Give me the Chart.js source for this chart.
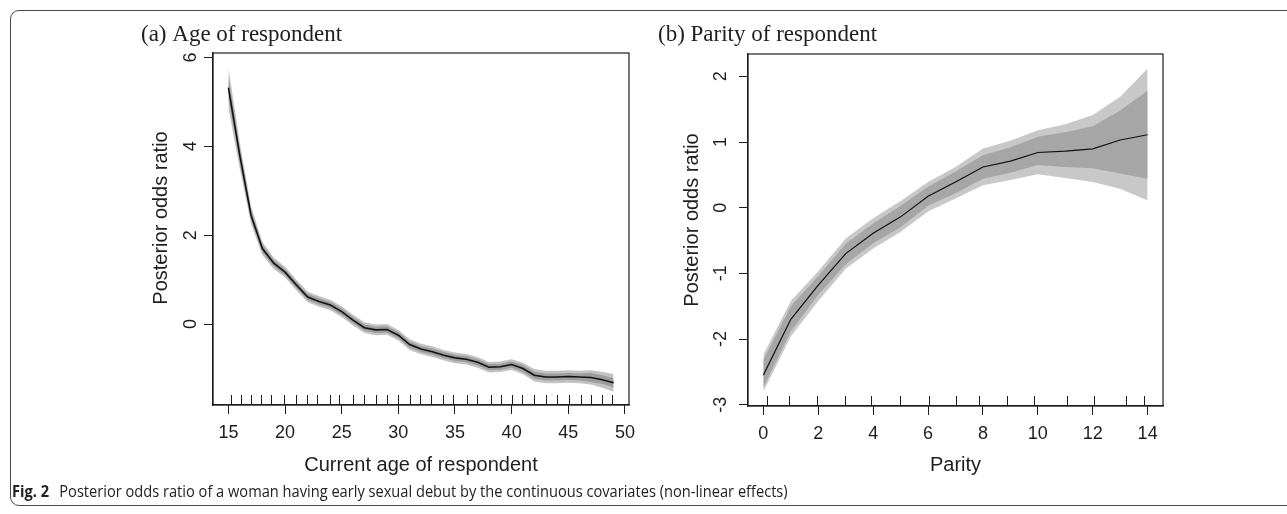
<!DOCTYPE html>
<html>
<head>
<meta charset="utf-8">
<script src="https://cdn.jsdelivr.net/npm/chart.js@4.4.1/dist/chart.umd.min.js"></script>
<style>
  html, body { margin: 0; padding: 0; background: #fff; }
  body { width: 1287px; height: 514px; position: relative; overflow: hidden; }
  canvas { position: absolute; left: 0; top: 0; }
  #frame { position: absolute; left: 10px; top: 10px; width: 1300px; height: 496px;
           border: 1.3px solid #4a4a4a; border-radius: 9px; box-sizing: border-box; }
  #caption { position: absolute; left: 12px; top: 480px; white-space: nowrap;
             font-family: "Open Sans", "Noto Sans", sans-serif; font-size: 16px; line-height: 22px;
             color: #222; transform-origin: 0 50%; }
  #caption b { font-weight: 700; margin-right: 7px; }
</style>
</head>
<body>
<div id="frame"></div>
<canvas id="c1" width="1287" height="514"></canvas>
<canvas id="c2" width="1287" height="514"></canvas>
<div id="caption"><b>Fig. 2</b> Posterior odds ratio of a woman having early sexual debut by the continuous covariates (non-linear effects)</div>
<script>
// ---------- Panel (a): age ----------
const ages = [15,16,17,18,19,20,21,22,23,24,25,26,27,28,29,30,31,32,33,34,35,36,37,38,39,40,41,42,43,44,45,46,47,48,49];
const ageMean = [5.32,3.80,2.45,1.70,1.37,1.17,0.88,0.61,0.51,0.43,0.28,0.09,-0.08,-0.13,-0.12,-0.25,-0.46,-0.56,-0.62,-0.70,-0.76,-0.79,-0.86,-0.97,-0.96,-0.91,-1.00,-1.15,-1.19,-1.19,-1.18,-1.19,-1.20,-1.25,-1.32];
const ageOuterUp = [5.78,4.10,2.65,1.85,1.50,1.29,1.00,0.73,0.63,0.55,0.40,0.21,0.04,-0.01,0.00,-0.13,-0.34,-0.44,-0.50,-0.58,-0.64,-0.67,-0.74,-0.85,-0.84,-0.79,-0.87,-1.01,-1.05,-1.05,-1.04,-1.05,-1.04,-1.07,-1.12];
const ageInnerUp = [5.57,3.97,2.56,1.79,1.44,1.24,0.95,0.68,0.58,0.50,0.35,0.16,-0.01,-0.06,-0.05,-0.18,-0.39,-0.49,-0.55,-0.63,-0.69,-0.72,-0.79,-0.90,-0.89,-0.84,-0.92,-1.07,-1.11,-1.11,-1.10,-1.11,-1.10,-1.15,-1.22];
const ageInnerLo = [5.07,3.63,2.34,1.61,1.30,1.10,0.81,0.54,0.44,0.36,0.21,0.02,-0.15,-0.20,-0.19,-0.32,-0.53,-0.63,-0.69,-0.77,-0.83,-0.86,-0.93,-1.04,-1.03,-0.98,-1.08,-1.23,-1.27,-1.27,-1.26,-1.27,-1.30,-1.35,-1.42];
const ageOuterLo = [4.86,3.50,2.25,1.55,1.24,1.05,0.76,0.49,0.39,0.31,0.16,-0.03,-0.20,-0.25,-0.24,-0.37,-0.58,-0.68,-0.74,-0.82,-0.88,-0.91,-0.98,-1.09,-1.08,-1.03,-1.13,-1.29,-1.33,-1.33,-1.32,-1.33,-1.36,-1.43,-1.52];
const ageRug = [15.2,16.1,17.0,17.9,18.8,19.9,21.0,21.9,22.8,24.0,24.8,26.0,27.0,28.0,29.0,30.0,31.0,31.9,32.9,33.9,34.8,36.1,36.9,38.2,39.1,40.0,40.9,42.0,43.0,44.0,45.1,46.1,47.0,48.0,48.9];

// ---------- Panel (b): parity ----------
const parity = [0,1,2,3,4,5,6,7,8,9,10,11,12,13,14];
const parMean = [-2.55,-1.70,-1.18,-0.70,-0.39,-0.14,0.175,0.39,0.62,0.71,0.84,0.86,0.895,1.03,1.11];
const parOuterUp = [-2.24,-1.42,-0.97,-0.47,-0.16,0.10,0.39,0.62,0.90,1.02,1.18,1.27,1.41,1.69,2.12];
const parInnerUp = [-2.32,-1.50,-1.04,-0.55,-0.24,0.03,0.32,0.55,0.80,0.92,1.08,1.15,1.24,1.48,1.78];
const parInnerLo = [-2.74,-1.88,-1.33,-0.86,-0.54,-0.30,0.03,0.22,0.44,0.53,0.65,0.62,0.60,0.52,0.44];
const parOuterLo = [-2.80,-1.96,-1.42,-0.93,-0.62,-0.37,-0.06,0.14,0.34,0.42,0.51,0.45,0.39,0.29,0.11];
const parRug = [0.15,0.95,1.96,2.98,3.93,4.98,6.04,7.0,7.84,8.87,9.85,11.05,12.03,13.2,13.85];

const TICK_FONT = '18px "Liberation Sans", Arial, sans-serif';
const TITLE_FONT = '20px "Liberation Sans", Arial, sans-serif';
const HEAD_FONT = '23px "Liberation Serif", "Times New Roman", serif';
const INK = '#1e1e1e';

function pts(xs, ys) { return xs.map((x, i) => ({x: x, y: ys[i]})); }

function decor(cfg) {
  return {
    id: 'decor',
    afterDraw(chart) {
      const {ctx, chartArea: a, scales: {x, y}} = chart;
      ctx.save();
      ctx.strokeStyle = INK;
      ctx.lineWidth = 1.2;
      ctx.strokeRect(a.left, a.top, a.right - a.left, a.bottom - a.top);
      // rug marks
      ctx.lineWidth = 1;
      cfg.rug.forEach(v => {
        const px = Math.round(x.getPixelForValue(v)) + 0.5;
        ctx.beginPath(); ctx.moveTo(px, a.bottom); ctx.lineTo(px, a.bottom - 10); ctx.stroke();
      });
      // y tick labels (rotated, as in R)
      ctx.fillStyle = INK;
      ctx.font = TICK_FONT;
      ctx.textAlign = 'center';
      ctx.textBaseline = 'middle';
      y.ticks.forEach(t => {
        const py = y.getPixelForValue(t.value);
        ctx.save(); ctx.translate(cfg.yLabelX, py); ctx.rotate(-Math.PI / 2);
        ctx.fillText(String(t.value), 0, 1); ctx.restore();
      });
      // y title
      ctx.font = TITLE_FONT;
      ctx.save(); ctx.translate(cfg.yTitleX, cfg.yTitleY); ctx.rotate(-Math.PI / 2);
      ctx.fillText(cfg.yTitle, 0, 0); ctx.restore();
      // x title
      ctx.fillText(cfg.xTitle, (a.left + a.right) / 2, cfg.xTitleY);
      // panel heading
      ctx.font = HEAD_FONT;
      ctx.textAlign = 'left';
      ctx.textBaseline = 'alphabetic';
      ctx.fillText(cfg.head, cfg.headX, 41);
      ctx.restore();
    }
  };
}

function makeChart(id, o) {
  return new Chart(document.getElementById(id), {
    type: 'line',
    data: {
      datasets: [
        {data: pts(o.xs, o.mean), borderColor: '#111', borderWidth: o.lw, pointRadius: 0, fill: false, tension: 0},
        {data: pts(o.xs, o.innerUp), borderWidth: 0, pointRadius: 0, backgroundColor: o.innerCol, fill: '+1', tension: 0},
        {data: pts(o.xs, o.innerLo), borderWidth: 0, pointRadius: 0, fill: false, tension: 0},
        {data: pts(o.xs, o.outerUp), borderWidth: 0, pointRadius: 0, backgroundColor: o.outerCol, fill: '+1', tension: 0},
        {data: pts(o.xs, o.outerLo), borderWidth: 0, pointRadius: 0, fill: false, tension: 0}
      ]
    },
    options: {
      responsive: false,
      animation: false,
      devicePixelRatio: 1,
      layout: {padding: {left: 0, top: o.top, right: o.right, bottom: 0}},
      plugins: {legend: {display: false}, tooltip: {enabled: false}},
      scales: {
        x: {
          type: 'linear', min: o.xmin, max: o.xmax,
          afterFit: s => { s.height = o.xh; },
          ticks: {stepSize: o.xstep, includeBounds: false, color: INK, font: {family: '"Liberation Sans", Arial, sans-serif', size: 18}, padding: 8, maxRotation: 0, autoSkip: false,
                  callback: v => String(v)},
          grid: {drawOnChartArea: false, drawTicks: true, tickLength: 9, color: INK, lineWidth: 1},
          border: {display: true, color: INK, width: 1.2}
        },
        y: {
          type: 'linear', min: o.ymin, max: o.ymax,
          afterFit: s => { s.width = o.yw; },
          ticks: {stepSize: o.ystep, includeBounds: false, display: false},
          grid: {drawOnChartArea: false, drawTicks: true, tickLength: 9, color: INK, lineWidth: 1},
          border: {display: true, color: INK, width: 1.2}
        }
      }
    },
    plugins: [decor(o.decor)]
  });
}

makeChart('c1', {
  xs: ages, mean: ageMean, innerUp: ageInnerUp, innerLo: ageInnerLo, outerUp: ageOuterUp, outerLo: ageOuterLo,
  lw: 1.6, innerCol: '#9d9d9d', outerCol: '#c3c3c3',
  top: 53, right: 1287 - 629, xh: 514 - 405, yw: 213,
  xmin: 13.64, xmax: 50.36, xstep: 5, ymin: -1.82, ymax: 6.1, ystep: 2,
  decor: {rug: ageRug, yLabelX: 190, yTitleX: 161, yTitleY: 218, yTitle: 'Posterior odds ratio',
          xTitle: 'Current age of respondent', xTitleY: 465, head: '(a) Age of respondent', headX: 141}
});

makeChart('c2', {
  xs: parity, mean: parMean, innerUp: parInnerUp, innerLo: parInnerLo, outerUp: parOuterUp, outerLo: parOuterLo,
  lw: 1.2, innerCol: '#a6a6a6', outerCol: '#c8c8c8',
  top: 54, right: 1287 - 1163, xh: 514 - 406, yw: 748,
  xmin: -0.56, xmax: 14.56, xstep: 2, ymin: -3.02, ymax: 2.34, ystep: 1,
  decor: {rug: parRug, yLabelX: 720, yTitleX: 692, yTitleY: 220, yTitle: 'Posterior odds ratio',
          xTitle: 'Parity', xTitleY: 465, head: '(b) Parity of respondent', headX: 658}
});

// fit caption to the reference width
(function () {
  const cap = document.getElementById('caption');
  const w = cap.scrollWidth;
  cap.style.transform = 'scaleX(' + (776 / w) + ')';
})();
</script>
</body>
</html>
